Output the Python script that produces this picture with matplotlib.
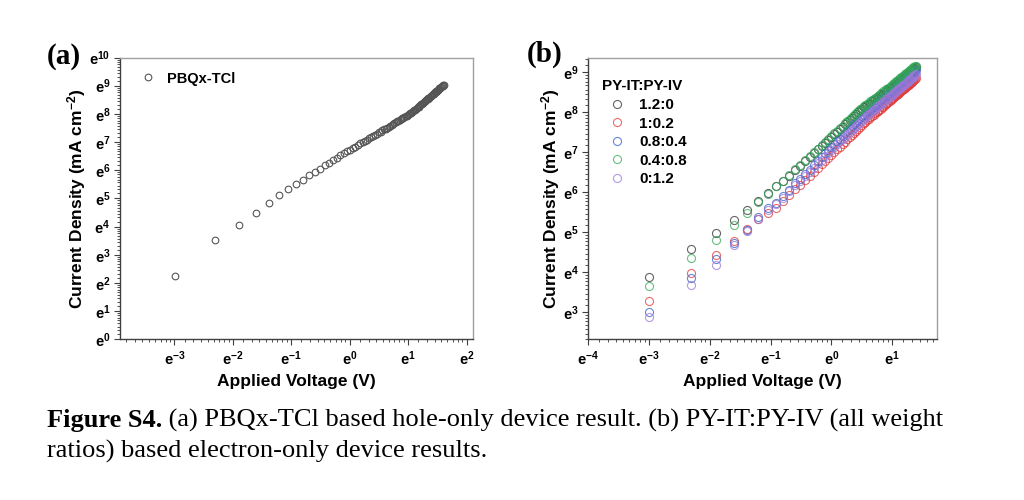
import numpy as np
import matplotlib
matplotlib.use('Agg')
import matplotlib.pyplot as plt
from matplotlib.ticker import FixedLocator, FuncFormatter, NullFormatter

plt.rcParams['font.family'] = ['Liberation Sans', 'DejaVu Sans']
plt.rcParams['mathtext.fontset'] = 'custom'
plt.rcParams['mathtext.rm'] = 'Liberation Sans:bold'
plt.rcParams['mathtext.bf'] = 'Liberation Sans:bold'
plt.rcParams['mathtext.it'] = 'Liberation Sans:bold'

# applied voltage (V), sweep
volt_a = [0.05, 0.10, 0.15, 0.20, 0.25, 0.30, 0.35, 0.40, 0.45, 0.50,
          0.55, 0.60, 0.65, 0.70, 0.75, 0.80, 0.85, 0.90, 0.95, 1.00,
          1.05, 1.10, 1.15, 1.20, 1.25, 1.30, 1.35, 1.40, 1.45, 1.50,
          1.55, 1.60, 1.65, 1.70, 1.75, 1.80, 1.85, 1.90, 1.95, 2.00,
          2.05, 2.10, 2.15, 2.20, 2.25, 2.30, 2.35, 2.40, 2.45, 2.50,
          2.55, 2.60, 2.65, 2.70, 2.75, 2.80, 2.85, 2.90, 2.95, 3.00,
          3.05, 3.10, 3.15, 3.20, 3.25, 3.30, 3.35, 3.40, 3.45, 3.50,
          3.55, 3.60, 3.65, 3.70, 3.75, 3.80, 3.85, 3.90, 3.95, 4.00,
          4.05, 4.10, 4.15, 4.20, 4.25, 4.30, 4.35, 4.40, 4.45, 4.50,
          4.55, 4.60, 4.65, 4.70, 4.75, 4.80, 4.85, 4.90, 4.95, 5.00]
volt_b = volt_a[:80]

# ln of current density (mA cm^-2)
ln_j_a = [2.24, 3.54, 4.07, 4.47, 4.84, 5.12, 5.32, 5.50, 5.67, 5.82,
          5.94, 6.06, 6.17, 6.27, 6.36, 6.45, 6.53, 6.60, 6.67, 6.73,
          6.79, 6.84, 6.90, 6.95, 7.00, 7.05, 7.09, 7.14, 7.18, 7.22,
          7.26, 7.30, 7.34, 7.37, 7.41, 7.45, 7.48, 7.51, 7.55, 7.58,
          7.61, 7.64, 7.67, 7.70, 7.73, 7.76, 7.79, 7.81, 7.84, 7.87,
          7.89, 7.92, 7.94, 7.97, 7.99, 8.02, 8.04, 8.07, 8.10, 8.12,
          8.15, 8.18, 8.21, 8.23, 8.26, 8.29, 8.31, 8.34, 8.36, 8.39,
          8.41, 8.44, 8.46, 8.48, 8.51, 8.53, 8.55, 8.58, 8.60, 8.62,
          8.65, 8.67, 8.69, 8.71, 8.73, 8.76, 8.78, 8.80, 8.82, 8.84,
          8.86, 8.88, 8.90, 8.92, 8.94, 8.96, 8.98, 9.00, 9.02, 9.04]

ln_j_120 = [3.87, 4.58, 4.97, 5.31, 5.56, 5.78, 5.97, 6.14, 6.27, 6.41,
            6.55, 6.66, 6.77, 6.87, 6.97, 7.07, 7.15, 7.23, 7.31, 7.38,
            7.45, 7.51, 7.58, 7.64, 7.70, 7.75, 7.81, 7.86, 7.91, 7.96,
            8.00, 8.05, 8.09, 8.12, 8.15, 8.18, 8.21, 8.24, 8.27, 8.30,
            8.32, 8.35, 8.37, 8.40, 8.43, 8.45, 8.48, 8.50, 8.53, 8.55,
            8.57, 8.60, 8.62, 8.64, 8.66, 8.68, 8.70, 8.73, 8.75, 8.77,
            8.79, 8.81, 8.83, 8.85, 8.87, 8.89, 8.91, 8.93, 8.95, 8.97,
            8.98, 9.00, 9.02, 9.04, 9.05, 9.07, 9.08, 9.10, 9.11, 9.12]
ln_j_102 = [3.27, 3.97, 4.41, 4.78, 5.08, 5.33, 5.47, 5.60, 5.77, 5.93,
            6.08, 6.18, 6.30, 6.40, 6.50, 6.61, 6.70, 6.78, 6.86, 6.93,
            7.00, 7.07, 7.14, 7.20, 7.26, 7.32, 7.38, 7.43, 7.49, 7.54,
            7.59, 7.64, 7.68, 7.72, 7.76, 7.80, 7.83, 7.87, 7.90, 7.93,
            7.97, 8.00, 8.03, 8.06, 8.09, 8.12, 8.14, 8.17, 8.20, 8.22,
            8.25, 8.28, 8.30, 8.32, 8.35, 8.37, 8.40, 8.42, 8.44, 8.46,
            8.48, 8.50, 8.53, 8.55, 8.57, 8.59, 8.61, 8.63, 8.65, 8.67,
            8.69, 8.70, 8.72, 8.74, 8.76, 8.78, 8.80, 8.82, 8.84, 8.86]
ln_j_0804 = [3.00, 3.85, 4.31, 4.72, 5.05, 5.37, 5.59, 5.73, 5.90, 6.06,
             6.22, 6.33, 6.45, 6.56, 6.67, 6.78, 6.88, 6.97, 7.05, 7.13,
             7.20, 7.27, 7.34, 7.41, 7.47, 7.53, 7.59, 7.65, 7.70, 7.75,
             7.80, 7.85, 7.90, 7.94, 7.98, 8.01, 8.04, 8.08, 8.11, 8.14,
             8.18, 8.21, 8.23, 8.27, 8.30, 8.32, 8.36, 8.38, 8.41, 8.44,
             8.46, 8.49, 8.51, 8.54, 8.56, 8.58, 8.60, 8.64, 8.66, 8.68,
             8.70, 8.72, 8.75, 8.77, 8.79, 8.81, 8.83, 8.85, 8.87, 8.89,
             8.91, 8.93, 8.95, 8.97, 8.98, 9.00, 9.01, 9.03, 9.04, 9.05]
ln_j_0408 = [3.64, 4.35, 4.81, 5.18, 5.47, 5.75, 5.96, 6.14, 6.28, 6.43,
             6.57, 6.68, 6.79, 6.89, 6.99, 7.09, 7.17, 7.25, 7.33, 7.40,
             7.47, 7.53, 7.60, 7.66, 7.72, 7.77, 7.83, 7.88, 7.93, 7.98,
             8.02, 8.07, 8.11, 8.15, 8.18, 8.21, 8.24, 8.27, 8.30, 8.33,
             8.36, 8.39, 8.41, 8.44, 8.47, 8.49, 8.52, 8.54, 8.57, 8.59,
             8.61, 8.64, 8.66, 8.68, 8.70, 8.72, 8.74, 8.77, 8.79, 8.81,
             8.83, 8.85, 8.87, 8.89, 8.91, 8.93, 8.95, 8.97, 8.99, 9.01,
             9.02, 9.04, 9.06, 9.08, 9.09, 9.11, 9.12, 9.14, 9.15, 9.16]
ln_j_012 = [2.87, 3.68, 4.18, 4.66, 5.02, 5.33, 5.56, 5.70, 5.86, 6.02,
            6.17, 6.28, 6.40, 6.51, 6.61, 6.72, 6.81, 6.90, 6.98, 7.06,
            7.13, 7.20, 7.27, 7.33, 7.39, 7.45, 7.51, 7.56, 7.61, 7.66,
            7.71, 7.76, 7.80, 7.84, 7.88, 7.92, 7.95, 7.99, 8.02, 8.05,
            8.09, 8.12, 8.15, 8.18, 8.21, 8.24, 8.26, 8.29, 8.32, 8.34,
            8.37, 8.39, 8.41, 8.43, 8.46, 8.48, 8.51, 8.53, 8.55, 8.57,
            8.59, 8.61, 8.63, 8.65, 8.67, 8.69, 8.71, 8.73, 8.75, 8.77,
            8.79, 8.80, 8.82, 8.84, 8.86, 8.88, 8.90, 8.92, 8.94, 8.96]

ratios = ['1.2:0', '1:0.2', '0.8:0.4', '0.4:0.8', '0:1.2']
series_b = [ln_j_120, ln_j_102, ln_j_0804, ln_j_0408, ln_j_012]
colors_b = ['#303030', '#e03a3a', '#3560c8', '#35a85a', '#9a78d8']


def style_axes(ax, xpow, ypow, xlim, ylim):
    ax.set_xscale('log', base=np.e)
    ax.set_yscale('log', base=np.e)
    ax.set_xlim(xlim)
    ax.set_ylim(ylim)
    for axis, pows in ((ax.xaxis, xpow), (ax.yaxis, ypow)):
        axis.set_major_locator(FixedLocator(np.exp(pows)))
        minors = []
        for n in range(pows[0] - 1, pows[-1] + 1):
            lo, hi = np.exp(n), np.exp(n + 1)
            minors += [lo + k * (hi - lo) / 9 for k in range(1, 9)]
        axis.set_minor_locator(FixedLocator(minors))
        axis.set_major_formatter(FuncFormatter(
            lambda v, pos: r'$\mathbf{e^{%d}}$' % round(np.log(v))))
        axis.set_minor_formatter(NullFormatter())
    ax.tick_params(which='major', direction='out', length=4, width=0.8,
                   labelsize=10.5, pad=3, color='#404040')
    ax.tick_params(which='minor', direction='out', length=2, width=0.7,
                   color='#505050')
    for side in ('left', 'bottom'):
        ax.spines[side].set_color('#404040')
        ax.spines[side].set_linewidth(1.0)
    for side in ('top', 'right'):
        ax.spines[side].set_color('#a0a0a0')
        ax.spines[side].set_linewidth(1.0)
    ax.set_xlabel('Applied Voltage (V)', fontsize=12.5, fontweight='bold', va='center')
    ax.set_ylabel('Current Density (mA cm$^{-2}$)', fontsize=12.5,
                  fontweight='bold', va='center')


fig = plt.figure(figsize=(10.24, 5.0), dpi=100)

# (a) hole-only device
ax_a = fig.add_axes([0.1172, 0.3214, 0.3447, 0.5636])
ax_a.plot(volt_a, np.exp(ln_j_a), ls='none', marker='o', ms=4.8, mfc='none',
          mec='#555555', mew=0.8, label='PBQx-TCl')
style_axes(ax_a, list(range(-3, 3)), list(range(0, 11)),
           (np.exp(-3.93), np.exp(2.11)), (np.exp(0), np.exp(10)))
ax_a.xaxis.set_label_coords(0.5, -0.150)
ax_a.yaxis.set_label_coords(-0.124, 0.5)
leg_a = ax_a.legend(loc='upper left', bbox_to_anchor=(0.058, 0.950),
                    frameon=False, handlelength=1.0, handletextpad=0.85,
                    borderpad=0, borderaxespad=0, numpoints=1,
                    prop={'weight': 'bold', 'size': 10.5})

# (b) electron-only devices
ax_b = fig.add_axes([0.5745, 0.3214, 0.3402, 0.5636])
for ln_j, lab, col in zip(series_b, ratios, colors_b):
    ax_b.plot(volt_b, np.exp(ln_j), ls='none', marker='o', ms=5.8, mfc='none',
              mec=col, mew=0.8, alpha=0.75, label=lab)
style_axes(ax_b, list(range(-4, 2)), list(range(3, 10)),
           (np.exp(-4.0), np.exp(1.73)), (np.exp(2.31), np.exp(9.37)))
ax_b.xaxis.set_label_coords(0.5, -0.150)
ax_b.yaxis.set_label_coords(-0.108, 0.5)
leg_b = ax_b.legend(loc='upper left', bbox_to_anchor=(0.039, 0.922),
                    frameon=False, title='PY-IT:PY-IV', alignment='left',
                    handlelength=2.0, handletextpad=0.45, labelspacing=0.30,
                    borderpad=0, borderaxespad=0, numpoints=1,
                    prop={'weight': 'bold', 'size': 11},
                    title_fontproperties={'weight': 'bold', 'size': 11})

fig.text(47 / 1024, 1 - 56 / 500, '(a)', family='Liberation Serif',
         fontweight='bold', fontsize=21, va='center', ha='left')
fig.text(527 / 1024, 1 - 54 / 500, '(b)', family='Liberation Serif',
         fontweight='bold', fontsize=21, va='center', ha='left')

# caption
cap_y1 = 1 - 427 / 500
cap_y2 = 1 - 458 / 500
t_bold = fig.text(47 / 1024, cap_y1, 'Figure S4.', family='Liberation Serif',
                  fontweight='bold', fontsize=19, va='baseline')
fig.canvas.draw()
bb = t_bold.get_window_extent()
fig.text(bb.x1 / fig.bbox.width, cap_y1,
         ' (a) PBQx-TCl based hole-only device result. (b) PY-IT:PY-IV (all weight',
         family='Liberation Serif', fontsize=19, va='baseline')
fig.text(47 / 1024, cap_y2, 'ratios) based electron-only device results.',
         family='Liberation Serif', fontsize=19, va='baseline')

fig.savefig('out.png', dpi=100)
